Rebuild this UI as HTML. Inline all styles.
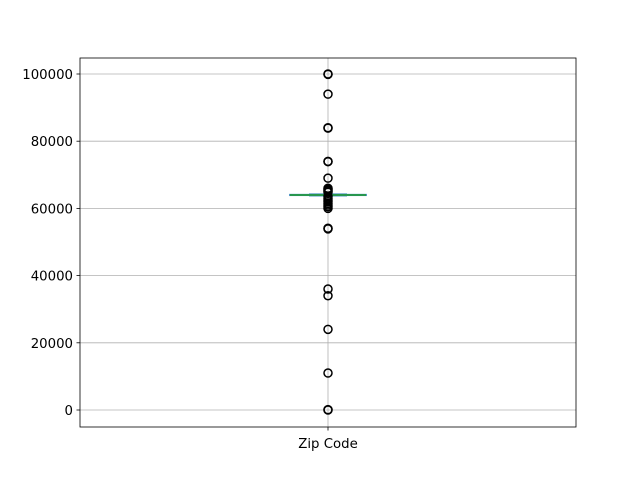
<!DOCTYPE html>
<html><head><meta charset="utf-8"><style>body{margin:0;background:#fff}svg{display:block}text{font-family:"DejaVu Sans","Liberation Sans",sans-serif;font-size:13.3px;fill:#000}</style></head>
<body>
<svg id="c" width="640" height="480"></svg>
<script>
const yTicks=[0,20000,40000,60000,80000,100000];
const category=["Zip Code"];
const medianVal=64000;
const q1=63900, q3=64100, whiskLo=63800, whiskHi=64200;
const outliers=[100000,99900,94000,84000,83900,74000,73900,69000,66000,65700,65400,65100,64800,63500,63000,62500,62000,61500,61000,60500,60000,54100,53900,36000,34000,24000,11000,100,0];
const svg=document.getElementById('c');const NS='http://www.w3.org/2000/svg';
function el(t,a,p){const e=document.createElementNS(NS,t);for(const k in a)e.setAttribute(k,a[k]);(p||svg).appendChild(e);return e;}
const L=80,R=576,T=58,B=427;
const y=v=>410-(v/100000)*336;
const cx=328;
yTicks.forEach(v=>{const g=el('line',{x1:L,x2:R,y1:y(v),y2:y(v),stroke:'#b0b0b0','stroke-width':0.8});

const t=el('line',{x1:L-3.5,x2:L,y1:y(v),y2:y(v),stroke:'#000','stroke-width':0.8});

const tx=el('text',{x:L-7,y:y(v)+5,'text-anchor':'end'});tx.textContent=v;
});
const vg=el('line',{x1:cx,x2:cx,y1:T,y2:B,stroke:'#b0b0b0','stroke-width':0.8});

const xt=el('line',{x1:cx,x2:cx,y1:B,y2:B+3.5,stroke:'#000','stroke-width':0.8});

const xl=el('text',{x:cx,y:B+21,'text-anchor':'middle'});xl.textContent=category[0];

const bx=el('rect',{x:290,y:y(q3),width:76,height:Math.max(0.5,y(q1)-y(q3)),fill:'none',stroke:'#1f77b4','stroke-width':1.5});

[[whiskLo,q1],[whiskHi,q3]].forEach(([a,b])=>{const w=el('line',{x1:cx,x2:cx,y1:y(a),y2:y(b),stroke:'#1f77b4','stroke-width':1.5});

const c=el('line',{x1:309,x2:347,y1:y(a),y2:y(a),stroke:'#1f77b4','stroke-width':1.5});
});
const md=el('line',{x1:290,x2:366,y1:y(medianVal),y2:y(medianVal),stroke:'#2ca02c','stroke-width':1.5});

outliers.forEach(v=>{const o=el('circle',{cx:cx,cy:y(v),r:4,fill:'none',stroke:'#000','stroke-width':1.5});
});
const fr=el('rect',{x:L,y:T,width:R-L,height:B-T,fill:'none',stroke:'#000','stroke-width':0.8});

</script>
</body></html>
